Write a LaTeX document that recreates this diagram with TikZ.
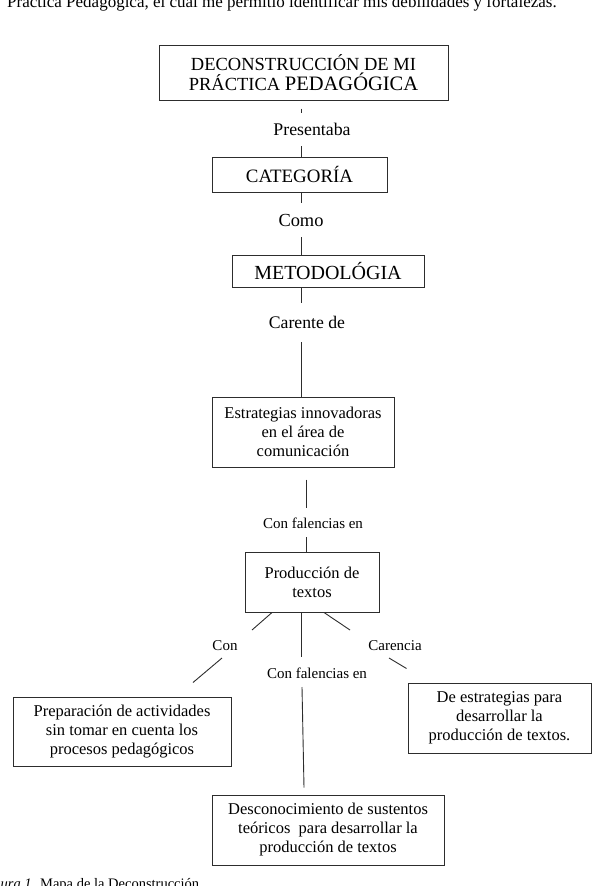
\documentclass[tikz,border=0pt]{standalone}
\usepackage{fontspec}
\setmainfont{Liberation Serif}
\usepackage{xcolor}
\definecolor{mapline}{RGB}{45, 45, 45}

\begin{document}
\begin{tikzpicture}[x=1pt,y=-1pt,
    mapbox/.style={draw=mapline, line width=1pt, align=center, inner sep=0pt,
        font=\fontsize{16.5}{19}\selectfont},
    biglabel/.style={inner sep=0pt, font=\fontsize{18}{20}\selectfont},
    smalllabel/.style={inner sep=0pt, font=\fontsize{15}{17}\selectfont},
    link/.style={draw=mapline, line width=0.9pt}]
    \useasboundingbox (0,0) rectangle (596,886);
    \clip (0,0) rectangle (596,886);

    % Page text around the map
    \node[anchor=base west, inner sep=0pt, font=\fontsize{17}{20}\selectfont] (intro) at (7,8)
        {Práctica Pedagógica, el cual me permitió identificar mis debilidades y fortalezas.};
    \node[anchor=base east, inner sep=0pt, font=\fontsize{14.5}{17}\selectfont] (caption) at (203,888)
        {\textit{Figura 1.} Mapa de la Deconstrucción.};

    % Upper chain
    \node[mapbox, minimum width=289pt, minimum height=55pt, font=\fontsize{18.5}{20}\selectfont] (deco) at (303.5,72.5)
        {DECONSTRUCCIÓN DE MI\\PRÁCTICA {\fontsize{20.5}{20}\selectfont PEDAGÓGICA}};
    \node[biglabel, font=\fontsize{17.8}{20}\selectfont] (presentaba) at (312,129) {Presentaba};
    \node[mapbox, minimum width=175pt, minimum height=35pt, font=\fontsize{18.9}{20}\selectfont] (cat) at (299.5,174.5) {CATEGORÍA};
    \node[biglabel, font=\fontsize{18.4}{20}\selectfont] (como) at (301,220) {Como};
    \node[mapbox, minimum width=192pt, minimum height=32pt, font=\fontsize{20}{22}\selectfont] (meto) at (328,271) {METODOLÓGIA};
    \node[biglabel, font=\fontsize{17.7}{20}\selectfont] (carente) at (307,322) {Carente de};
    \node[mapbox, minimum width=182pt, minimum height=70pt] (estr) at (303,432)
        {Estrategias innovadoras\\en el área de\\comunicación};
    \node[smalllabel] (falen1) at (313,523) {Con falencias en};
    \node[mapbox, minimum width=134pt, minimum height=60pt] (prod) at (312,582) {Producción de\\textos};

    % Branches
    \node[smalllabel] (con) at (225,646) {Con};
    \node[smalllabel] (carencia) at (395,646) {Carencia};
    \node[smalllabel] (falen2) at (317,673) {Con falencias en};
    \node[mapbox, minimum width=218pt, minimum height=69pt] (prep) at (122,731.5)
        {Preparación de actividades\\sin tomar en cuenta los\\procesos pedagógicos};
    \node[mapbox, minimum width=183pt, minimum height=70pt] (destr) at (499.5,718)
        {De estrategias para\\desarrollar la\\producción de textos.};
    \node[mapbox, minimum width=232pt, minimum height=70pt] (desc) at (328,830)
        {Desconocimiento de sustentos\\teóricos \ para desarrollar la\\producción de textos};

    % Connectors of the chain
    \draw[link] ([shift={(-2.5,8)}]deco.south) -- ([shift={(-11,-16)}]presentaba.center);
    \draw[link] ([shift={(-11,17)}]presentaba.center) -- ([shift={(1.5,0)}]cat.north);
    \draw[link] ([shift={(1.5,0)}]cat.south) -- ([shift={(0,-17)}]como.center);
    \draw[link] ([shift={(0,17)}]como.center) -- ([shift={(-27,0)}]meto.north);
    \draw[link] ([shift={(-27,0)}]meto.south) -- ([shift={(-6,-19)}]carente.center);
    \draw[link] ([shift={(-6,20)}]carente.center) -- ([shift={(-2,0)}]estr.north);
    \draw[link] ([shift={(3,12)}]estr.south) -- ([shift={(-7,-15)}]falen1.center);
    \draw[link] ([shift={(-7,14)}]falen1.center) -- ([shift={(-6,0)}]prod.north);

    % Connectors of the branches
    \draw[link] ([shift={(-40,0)}]prod.south) -- ([shift={(27,-16)}]con.center);
    \draw[link] ([shift={(-3,12)}]con.center) -- ([shift={(71,-14)}]prep.north);
    \draw[link] ([shift={(-11,0)}]prod.south) -- ([shift={(-16,-16)}]falen2.center);
    \draw[link] ([shift={(-15,14)}]falen2.center) -- ([shift={(-24,-7)}]desc.north);
    \draw[link] ([shift={(12,0)}]prod.south) -- ([shift={(-45,-16)}]carencia.center);
    \draw[link] ([shift={(-6,12)}]carencia.center) -- ([shift={(-93,-14)}]destr.north);
\end{tikzpicture}
\end{document}
